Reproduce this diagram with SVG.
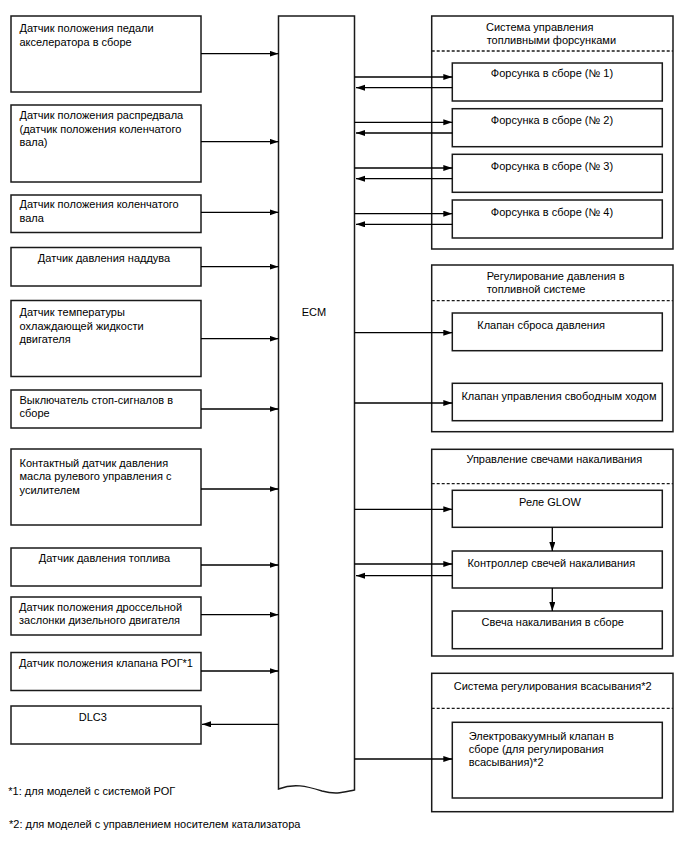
<svg xmlns="http://www.w3.org/2000/svg" width="688" height="852" viewBox="0 0 688 852">
<defs>
<marker id="ah" markerUnits="userSpaceOnUse" markerWidth="10" markerHeight="7" refX="9" refY="3" orient="auto">
<path d="M0,0 L9,3 L0,6 z" fill="#000"/>
</marker>
<style>
.b{fill:#fff;stroke:#1a1a1a;stroke-width:1.5}
.t{font-family:"Liberation Sans",Arial,sans-serif;font-size:11px;fill:#000}
.m{text-anchor:middle}
.c{stroke:#000;stroke-width:1.3;fill:none;marker-end:url(#ah)}
.d{stroke:#1a1a1a;stroke-width:1.3;stroke-dasharray:3 2;fill:none}
</style>
</defs>
<rect width="688" height="852" fill="#fff"/>

<g id="ecm">
<path class="b" d="M278.5,789 L278.5,16 L354.5,16 L354.5,790 C344,792 337,795 322,791 C306,786 294,783 278.5,789 Z"/>
<text class="t m" x="314" y="316">ECM</text>
</g>

<g id="s1"><rect class="b" x="11" y="16" width="190" height="76"/>
<text class="t" x="19.5" y="32">Датчик положения педали</text><text class="t" x="19.5" y="45.5">акселератора в сборе</text></g>
<g id="s2"><rect class="b" x="11" y="105" width="190" height="77"/>
<text class="t" x="19.5" y="119">Датчик положения распредвала</text><text class="t" x="19.5" y="132.5">(датчик положения коленчатого</text><text class="t" x="19.5" y="146">вала)</text></g>
<g id="s3"><rect class="b" x="11" y="195" width="190" height="37.5"/>
<text class="t" x="19.5" y="208">Датчик положения коленчатого</text><text class="t" x="19.5" y="221.5">вала</text></g>
<g id="s4"><rect class="b" x="11" y="247.5" width="190" height="38.5"/>
<text class="t m" x="104" y="262">Датчик давления наддува</text></g>
<g id="s5"><rect class="b" x="11" y="300.5" width="190" height="76"/>
<text class="t" x="19.5" y="316">Датчик температуры</text><text class="t" x="19.5" y="329.5">охлаждающей жидкости</text><text class="t" x="19.5" y="343">двигателя</text></g>
<g id="s6"><rect class="b" x="11" y="390" width="190" height="38"/>
<text class="t" x="19.5" y="403.5">Выключатель стоп-сигналов в</text><text class="t" x="19.5" y="417">сборе</text></g>
<g id="s7"><rect class="b" x="11" y="449" width="190" height="76"/>
<text class="t" x="19.5" y="466.5">Контактный датчик давления</text><text class="t" x="19.5" y="480">масла рулевого управления с</text><text class="t" x="19.5" y="493.5">усилителем</text></g>
<g id="s8"><rect class="b" x="11" y="548" width="190" height="38"/>
<text class="t m" x="104.5" y="562">Датчик давления топлива</text></g>
<g id="s9"><rect class="b" x="11" y="597" width="190" height="38"/>
<text class="t" x="19" y="610.5">Датчик положения дроссельной</text><text class="t" x="19" y="624">заслонки дизельного двигателя</text></g>
<g id="s10"><rect class="b" x="11" y="652.5" width="190" height="38"/>
<text class="t" x="19" y="667">Датчик положения клапана РОГ*1</text></g>
<g id="dlc3"><rect class="b" x="11" y="706" width="190" height="38"/>
<text class="t" x="78.7" y="720.5">DLC3</text></g>

<g id="g1"><rect class="b" x="431.7" y="16" width="241.3" height="233"/>
<text class="t" x="486" y="30.5">Система управления</text><text class="t" x="486.7" y="44">топливными форсунками</text>
<line class="d" x1="431.7" y1="51" x2="673" y2="51"/></g>
<g id="inj1"><rect class="b" x="452.3" y="63" width="210" height="38"/><text class="t m" x="552" y="77">Форсунка в сборе (№ 1)</text></g>
<g id="inj2"><rect class="b" x="452.3" y="108.7" width="210" height="38"/><text class="t m" x="552" y="124">Форсунка в сборе (№ 2)</text></g>
<g id="inj3"><rect class="b" x="452.3" y="154.3" width="210" height="38"/><text class="t m" x="552" y="169.5">Форсунка в сборе (№ 3)</text></g>
<g id="inj4"><rect class="b" x="452.3" y="200" width="210" height="38"/><text class="t m" x="552" y="215.5">Форсунка в сборе (№ 4)</text></g>

<g id="g2"><rect class="b" x="431.7" y="265" width="241.3" height="166.7"/>
<text class="t" x="486.7" y="280">Регулирование давления в</text><text class="t" x="486.7" y="293">топливной системе</text>
<line class="d" x1="431.7" y1="300.7" x2="673" y2="300.7"/></g>
<g id="relief"><rect class="b" x="452.3" y="313" width="210" height="37.7"/><text class="t" x="477.3" y="329">Клапан сброса давления</text></g>
<g id="idle"><rect class="b" x="452.3" y="383.3" width="210" height="37.4"/><text class="t m" x="559" y="399.5">Клапан управления свободным ходом</text></g>

<g id="g3"><rect class="b" x="431.7" y="449.3" width="241.3" height="206.7"/>
<text class="t m" x="554.3" y="463">Управление свечами накаливания</text>
<line class="d" x1="431.7" y1="483.7" x2="673" y2="483.7"/></g>
<g id="glow"><rect class="b" x="452.3" y="490.3" width="210" height="37"/><text class="t m" x="550" y="506">Реле GLOW</text></g>
<g id="ctrl"><rect class="b" x="452.3" y="551" width="210" height="37"/><text class="t m" x="551.3" y="567">Контроллер свечей накаливания</text></g>
<g id="plug"><rect class="b" x="452.3" y="611" width="210" height="37.7"/><text class="t m" x="552.7" y="626">Свеча накаливания в сборе</text></g>

<g id="g4"><rect class="b" x="431.7" y="673.3" width="241.3" height="138.4"/>
<text class="t" x="453.7" y="690">Система регулирования всасывания*2</text>
<line class="d" x1="431.7" y1="708.3" x2="673" y2="708.3"/></g>
<g id="vsv"><rect class="b" x="452.3" y="722.3" width="210" height="75.7"/>
<text class="t" x="468.7" y="739.5">Электровакуумный клапан в</text><text class="t" x="468.7" y="752.5">сборе (для регулирования</text><text class="t" x="468.7" y="765.5">всасывания)*2</text></g>

<g id="notes">
<text class="t" x="8.3" y="794.5">*1: для моделей с системой РОГ</text>
<text class="t" x="9" y="828">*2: для моделей с управлением носителем катализатора</text>
</g>

<g id="connectors">
<line class="c" x1="201" y1="53.7" x2="278.5" y2="53.7"/>
<line class="c" x1="201" y1="141.7" x2="278.5" y2="141.7"/>
<line class="c" x1="201" y1="212.3" x2="278.5" y2="212.3"/>
<line class="c" x1="201" y1="266.7" x2="278.5" y2="266.7"/>
<line class="c" x1="201" y1="338.7" x2="278.5" y2="338.7"/>
<line class="c" x1="201" y1="409" x2="278.5" y2="409"/>
<line class="c" x1="201" y1="489" x2="278.5" y2="489"/>
<line class="c" x1="201" y1="565" x2="278.5" y2="565"/>
<line class="c" x1="201" y1="614.7" x2="278.5" y2="614.7"/>
<line class="c" x1="201" y1="671" x2="278.5" y2="671"/>
<line class="c" x1="278.5" y1="724.3" x2="202" y2="724.3"/>

<line class="c" x1="354.5" y1="77" x2="452.3" y2="77"/>
<line class="c" x1="452.3" y1="87.7" x2="356" y2="87.7"/>
<line class="c" x1="354.5" y1="122.3" x2="452.3" y2="122.3"/>
<line class="c" x1="452.3" y1="133" x2="356" y2="133"/>
<line class="c" x1="354.5" y1="168" x2="452.3" y2="168"/>
<line class="c" x1="452.3" y1="178.7" x2="356" y2="178.7"/>
<line class="c" x1="354.5" y1="213.7" x2="452.3" y2="213.7"/>
<line class="c" x1="452.3" y1="224.3" x2="356" y2="224.3"/>

<line class="c" x1="354.5" y1="332.7" x2="452.3" y2="332.7"/>
<line class="c" x1="354.5" y1="403" x2="452.3" y2="403"/>

<line class="c" x1="354.5" y1="509.3" x2="452.3" y2="509.3"/>
<line class="c" x1="354.5" y1="564" x2="452.3" y2="564"/>
<line class="c" x1="452.3" y1="575.7" x2="356" y2="575.7"/>
<line class="c" x1="552.3" y1="527.3" x2="552.3" y2="551"/>
<line class="c" x1="552.3" y1="588" x2="552.3" y2="611"/>

<line class="c" x1="354.5" y1="759" x2="452.3" y2="759"/>
</g>
</svg>
